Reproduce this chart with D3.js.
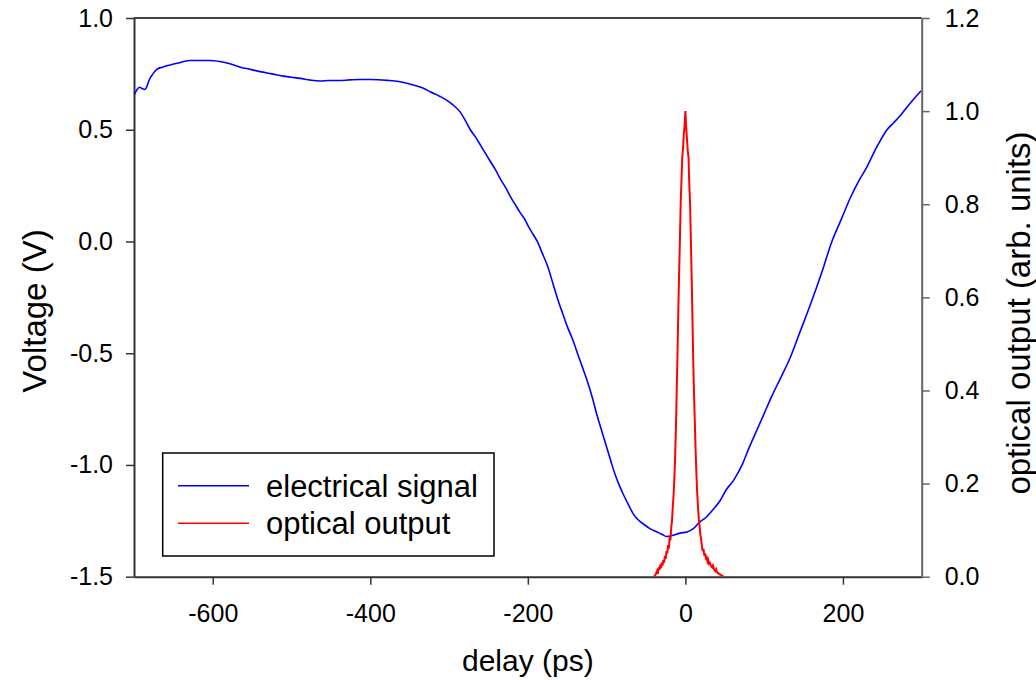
<!DOCTYPE html>
<html><head><meta charset="utf-8">
<script src="https://cdn.jsdelivr.net/npm/d3@7"></script>
<style>
body{margin:0;background:#fff;}
text{font-family:"Liberation Sans",Arial,sans-serif;fill:#000;}
</style></head>
<body><svg id="chart" width="1036" height="680"></svg>
<script>
// electrical signal (left axis, V)
const elecDelay = [-700,-696,-693,-690,-686,-683,-681,-676,-671,-664,-654,-642,-629,-616,-604,-591,-578,-565,-552,-540,-525,-511,-500,-489,-476,-464,-452,-440,-426,-413,-400,-390,-376,-362,-350,-340,-332,-324,-312,-300,-293,-286,-280,-273,-266,-260,-254,-248,-241,-235,-228,-222,-216,-210,-204,-199,-193,-188,-182,-175,-168,-162,-156,-150,-143,-137,-131,-125,-118,-112,-106,-100,-94,-89,-84,-79,-72,-66,-60,-53,-45,-36,-30,-24,-16,-7,2,10,18,26,35,44,52,61,66,72,80,90,100,110,121,133,146,160,173,186,198,210,220,230,241,248,256,264,272,280,287,293,299];
const elecVolt  = [0.655,0.68,0.69,0.685,0.68,0.70,0.72,0.75,0.77,0.78,0.79,0.80,0.81,0.81,0.81,0.805,0.795,0.78,0.77,0.76,0.75,0.74,0.735,0.73,0.722,0.718,0.72,0.72,0.723,0.725,0.725,0.724,0.72,0.715,0.705,0.695,0.685,0.67,0.65,0.625,0.605,0.58,0.545,0.50,0.465,0.43,0.395,0.36,0.32,0.28,0.24,0.20,0.165,0.13,0.10,0.065,0.03,0.0,-0.05,-0.11,-0.19,-0.26,-0.32,-0.38,-0.44,-0.50,-0.56,-0.62,-0.70,-0.78,-0.85,-0.92,-0.99,-1.045,-1.09,-1.13,-1.18,-1.22,-1.245,-1.265,-1.285,-1.30,-1.31,-1.32,-1.315,-1.305,-1.30,-1.285,-1.256,-1.235,-1.20,-1.16,-1.11,-1.07,-1.04,-1.0,-0.93,-0.85,-0.77,-0.69,-0.61,-0.52,-0.40,-0.27,-0.14,0.0,0.10,0.20,0.27,0.33,0.41,0.455,0.50,0.53,0.56,0.595,0.625,0.65,0.674];

// optical output (right axis, arb. units)
const optDelay = [-40,-38,-36,-35,-34,-33,-32,-31,-30,-29,-28,-27,-26,-25,-24,-23,-22,-21,-20,-19,-18,-17,-16,-15,-14,-13,-12,-11,-10,-9,-8,-7,-6,-5,-4,-3,-2,-1,0,1,2,3,4,5,6,7,8,9,10,11,12,13,14,15,16,17,18,19,20,21,22,23,24,25,26,27,28,29,30,31,32,33,34,35,36,37,38,39,40,41,42,43,44,45,46,47,48];
const optValue = [0.0,0.004,0.012,0.006,0.02,0.014,0.026,0.018,0.03,0.024,0.036,0.03,0.045,0.038,0.055,0.05,0.068,0.06,0.085,0.078,0.105,0.12,0.15,0.175,0.21,0.26,0.32,0.40,0.48,0.57,0.65,0.72,0.80,0.85,0.90,0.92,0.95,0.97,1.0,0.965,0.94,0.915,0.90,0.84,0.80,0.72,0.64,0.55,0.46,0.39,0.33,0.27,0.22,0.18,0.15,0.125,0.11,0.09,0.08,0.065,0.055,0.06,0.045,0.05,0.04,0.042,0.032,0.036,0.028,0.03,0.025,0.022,0.02,0.024,0.018,0.014,0.012,0.016,0.01,0.008,0.008,0.005,0.005,0.004,0.003,0.002,0.0];

const xTicks = [-600,-400,-200,0,200];
const yLeftTicks = [-1.5,-1.0,-0.5,0.0,0.5,1.0];
const yRightTicks = [0.0,0.2,0.4,0.6,0.8,1.0,1.2];
const legendLabels = ["electrical signal","optical output"];
const colors = ["#0000ff","#ff0000"];

const svg = d3.select("#chart");
const L = 134, R = 921.7, T = 18, B = 576.7;

const x = d3.scaleLinear().domain([-700,300]).range([L,R]);
const yL = d3.scaleLinear().domain([-1.5,1.0]).range([B,T]);
const yR = d3.scaleLinear().domain([0,1.2]).range([B,T]);

svg.append("clipPath").attr("id","clip").append("rect")
  .attr("x",L).attr("y",T).attr("width",R-L).attr("height",B-T);

svg.append("line").attr("x1",L).attr("x2",R).attr("y1",T).attr("y2",T)
  .attr("stroke","#000").attr("stroke-width",1.5);

const hy = f => d => f(d).replace("\u2212","-");
const fmt = hy(d3.format(".1f"));

const gx = svg.append("g").attr("transform",`translate(0,${B})`)
  .call(d3.axisBottom(x).tickValues(xTicks).tickSize(8).tickSizeOuter(0).tickPadding(20).tickFormat(hy(d3.format("d"))));
const gyl = svg.append("g").attr("transform",`translate(${L},0)`)
  .call(d3.axisLeft(yL).tickValues(yLeftTicks).tickSize(8).tickSizeOuter(0).tickPadding(13).tickFormat(fmt));
const gyr = svg.append("g").attr("transform",`translate(${R},0)`)
  .call(d3.axisRight(yR).tickValues(yRightTicks).tickSize(8).tickSizeOuter(0).tickPadding(15).tickFormat(fmt));

[gx,gyl].forEach(g=>{
  g.select(".domain").attr("stroke","#333").attr("stroke-width",2);
  g.selectAll(".tick line").attr("stroke","#333").attr("stroke-width",1.5);
});
gyr.select(".domain").attr("stroke","#666").attr("stroke-width",2);
gyr.selectAll(".tick line").attr("stroke","#666").attr("stroke-width",1.5);
[gx,gyl,gyr].forEach(g=>g.selectAll(".tick text")
  .attr("font-family","'Liberation Sans',Arial,sans-serif").attr("font-size",25).attr("fill","#000"));
gx.selectAll(".tick text").attr("dy","0.71em");

const plot = svg.append("g").attr("clip-path","url(#clip)");
const elec = elecDelay.map((d,i)=>[d,elecVolt[i]]);
const opt = optDelay.map((d,i)=>[d,optValue[i]]);
plot.append("path").datum(elec)
  .attr("d",d3.line().curve(d3.curveMonotoneX).x(d=>x(d[0])).y(d=>yL(d[1])))
  .attr("fill","none").attr("stroke",colors[0]).attr("stroke-width",1.6);
plot.append("path").datum(opt)
  .attr("d",d3.line().x(d=>x(d[0])).y(d=>yR(d[1])))
  .attr("fill","none").attr("stroke",colors[1]).attr("stroke-width",2);

svg.append("text").attr("x",(L+R)/2).attr("y",671).attr("text-anchor","middle")
  .attr("font-size",30).text("delay (ps)");
svg.append("text").attr("transform",`translate(46,311) rotate(-90)`)
  .attr("text-anchor","middle").attr("font-size",33).text("Voltage (V)");
svg.append("text").attr("transform",`translate(1030,313) rotate(-90)`)
  .attr("text-anchor","middle").attr("font-size",33).text("optical output (arb. units)");

const lg = svg.append("g");
lg.append("rect").attr("x",162.7).attr("y",453).attr("width",331.3).attr("height",103)
  .attr("fill","#fff").attr("stroke","#000").attr("stroke-width",1.5);
legendLabels.forEach((lab,i)=>{
  const yy = 485.7 + i*37.6;
  lg.append("line").attr("x1",178).attr("x2",249).attr("y1",yy).attr("y2",yy)
    .attr("stroke",colors[i]).attr("stroke-width",1.6);
  lg.append("text").attr("x",266).attr("y",yy).attr("dy","0.36em")
    .attr("font-size",31).text(lab);
});
</script></body></html>
